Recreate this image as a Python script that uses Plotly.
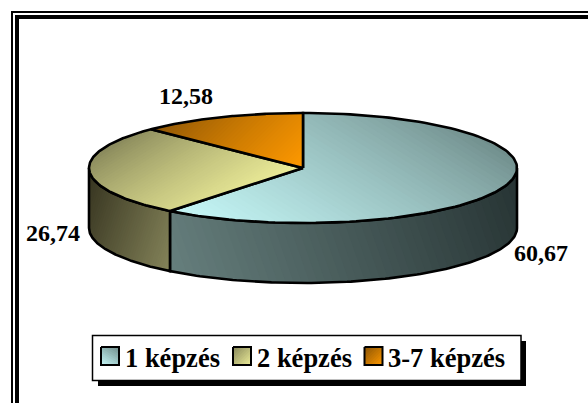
import math
import plotly.graph_objects as go

categories = ["1 képzés", "2 képzés", "3-7 képzés"]
values = [60.67, 26.74, 12.58]
value_labels = ["60,67", "26,74", "12,58"]
top_light = ["#c6f8f8", "#eeee99", "#ff9900"]
top_dark = ["#6f8c8a", "#86865a", "#8a5406"]
side_light = ["#667f7d", "#85845a"]
side_dark = ["#263333", "#35331f"]

W, H = 588, 403
CX, CY, RX, RY, DEPTH = 303, 168, 214, 55, 60
STRIPS = 48
fig = go.Figure()


def hex2rgb(h):
    return tuple(int(h[i:i + 2], 16) for i in (1, 3, 5))


def mix(a, b, t):
    a, b = hex2rgb(a), hex2rgb(b)
    return "rgb(%d,%d,%d)" % tuple(round(a[i] + (b[i] - a[i]) * t) for i in range(3))


def clip(poly, d, limit):
    out = []
    n = len(poly)
    for i in range(n):
        p, q = poly[i], poly[(i + 1) % n]
        a = p[0] * d[0] + p[1] * d[1] - limit
        b = q[0] * d[0] + q[1] * d[1] - limit
        if a >= 0:
            out.append(p)
        if a * b < 0:
            s = a / (a - b)
            out.append((p[0] + (q[0] - p[0]) * s, p[1] + (q[1] - p[1]) * s))
    return out


def gradient_poly(poly, d, c_start, c_end, lw=2.6, strips=STRIPS, gamma=1.0):
    m = math.hypot(*d)
    d = (d[0] / m, d[1] / m)
    proj = [p[0] * d[0] + p[1] * d[1] for p in poly]
    lo, hi = min(proj), max(proj)
    for i in range(strips):
        a = lo + (hi - lo) * i / strips
        piece = clip(poly, d, a) if i else poly
        if len(piece) < 3:
            continue
        col = mix(c_start, c_end, ((i + 0.5) / strips) ** gamma)
        fig.add_trace(go.Scatter(
            x=[p[0] for p in piece] + [piece[0][0]],
            y=[p[1] for p in piece] + [piece[0][1]],
            mode="lines", fill="toself", fillcolor=col,
            line=dict(width=0),
            hoverinfo="skip", showlegend=False))
    fig.add_trace(go.Scatter(
        x=[p[0] for p in poly] + [poly[0][0]],
        y=[p[1] for p in poly] + [poly[0][1]],
        mode="lines", line=dict(color="black", width=lw),
        hoverinfo="skip", showlegend=False))


def pt(angle, dy=0):
    return (CX + RX * math.sin(angle), CY - RY * math.cos(angle) + dy)


def arc(a0, a1, dy=0, n=120):
    return [pt(a0 + (a1 - a0) * i / n, dy) for i in range(n + 1)]


total = sum(values)
bounds = [0]
for v in values:
    bounds.append(bounds[-1] + v / total * 2 * math.pi)

# Visible side walls: wedge 1 from the right edge to its end, wedge 2 up to the left edge
sides = [(math.pi / 2, bounds[1]), (bounds[1], 3 * math.pi / 2)]
side_dirs = [(-1, 0.35), (1, 0.35)]
for i, (a0, a1) in enumerate(sides):
    poly = arc(a0, a1) + arc(a1, a0, DEPTH)
    gradient_poly(poly, side_dirs[i], side_dark[i], side_light[i])

# Top faces
top_dirs = [(-1, 1.6), (1, 1.6), (1, 1.0)]
for i in range(3):
    poly = [(CX, CY)] + arc(bounds[i], bounds[i + 1])
    gradient_poly(poly, top_dirs[i], top_dark[i], top_light[i], gamma=0.8)

# Legend swatches
sw_x = [101, 233, 364.5]
legend_text_x = [125, 257, 388]
SW_Y0, SW_Y1, SW = 347, 365, 18
for i in range(3):
    x0 = sw_x[i]
    poly = [(x0, SW_Y0), (x0 + SW, SW_Y0), (x0 + SW, SW_Y1), (x0, SW_Y1)]
    gradient_poly(poly, top_dirs[i] if i == 0 else (1, 1), top_dark[i], top_light[i], lw=2, strips=12)

shapes = [
    # double frame, running off the right and bottom of the page
    dict(type="rect", x0=12, y0=12, x1=W + 20, y1=H + 20, line=dict(color="black", width=2)),
    dict(type="rect", x0=17, y0=17, x1=W + 20, y1=H + 20, line=dict(color="black", width=4)),
    # legend box with drop shadow
    dict(type="rect", x0=98, y0=341, x1=526, y1=386, fillcolor="black", line=dict(color="black", width=0), layer="below"),
    dict(type="rect", x0=92.5, y0=335.5, x1=521, y1=380.5, fillcolor="white", line=dict(color="black", width=1.5), layer="below"),
]

label_pos = [(541, 253), (53, 233), (186, 96)]
annotations = []
for i in range(3):
    annotations.append(dict(x=label_pos[i][0], y=label_pos[i][1], text=value_labels[i], showarrow=False,
                            xanchor="center", yanchor="middle",
                            font=dict(family="Liberation Serif", size=24, color="black", weight="bold")))
    annotations.append(dict(x=legend_text_x[i], y=358, text=categories[i], showarrow=False,
                            xanchor="left", yanchor="middle", xshift=-2,
                            font=dict(family="Liberation Serif", size=26.5, color="black", weight="bold")))

fig.update_layout(
    width=W, height=H, margin=dict(l=0, r=0, t=0, b=0),
    paper_bgcolor="white", plot_bgcolor="white", showlegend=False,
    xaxis=dict(range=[0, W], visible=False, fixedrange=True),
    yaxis=dict(range=[H, 0], visible=False, fixedrange=True),
    shapes=shapes, annotations=annotations,
)
fig.write_html("out.html", config={"displayModeBar": False},
               post_script="document.body.style.margin='0';document.documentElement.style.overflow='hidden';")
